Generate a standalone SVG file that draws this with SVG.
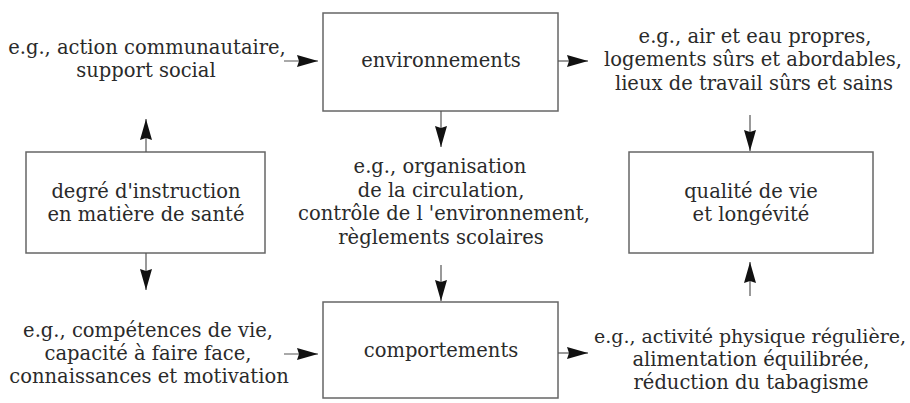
<svg xmlns="http://www.w3.org/2000/svg" width="910" height="403" viewBox="0 0 910 403">
<defs>
<style>
text{font-family:"DejaVu Serif","Liberation Serif",serif;font-size:19.5px;fill:#2a2a2a;text-anchor:middle}
.box{fill:#fff;stroke:#666;stroke-width:1.5}
.c{stroke:#555;stroke-width:1.2;fill:none;marker-end:url(#ah)}
</style>
<marker id="ah" markerUnits="userSpaceOnUse" markerWidth="21" markerHeight="13" refX="21" refY="6.5" orient="auto">
<path d="M0,0.5 L21,6.5 L0,12.5 L2,6.5 Z" fill="#111"/>
</marker>
</defs>
<rect width="910" height="403" fill="#fff"/>
<g id="env">
<rect class="box" x="323" y="13" width="235" height="98"/>
<text x="441" y="67">environnements</text>
</g>
<g id="degre">
<rect class="box" x="26" y="152" width="239" height="101"/>
<text x="146" y="198">degré d'instruction</text>
<text x="146" y="221">en matière de santé</text>
</g>
<g id="qualite">
<rect class="box" x="629" y="152" width="244" height="101"/>
<text x="751" y="198">qualité de vie</text>
<text x="751" y="221">et longévité</text>
</g>
<g id="comp">
<rect class="box" x="323" y="302" width="235" height="96"/>
<text x="441" y="357">comportements</text>
</g>
<g id="lbl-tl">
<text x="147" y="54">e.g., action communautaire,</text>
<text x="146" y="77">support social</text>
</g>
<g id="lbl-tr">
<text x="755" y="43">e.g., air et eau propres,</text>
<text x="753" y="66">logements sûrs et abordables,</text>
<text x="754" y="90">lieux de travail sûrs et sains</text>
</g>
<g id="lbl-mid">
<text x="440" y="173">e.g., organisation</text>
<text x="441" y="197">de la circulation,</text>
<text x="444" y="220">contrôle de l 'environnement,</text>
<text x="441" y="244">règlements scolaires</text>
</g>
<g id="lbl-bl">
<text x="148" y="337">e.g., compétences de vie,</text>
<text x="148" y="360">capacité à faire face,</text>
<text x="149" y="383">connaissances et motivation</text>
</g>
<g id="lbl-br">
<text x="750" y="343" style="font-size:19px">e.g., activité physique régulière,</text>
<text x="751" y="366">alimentation équilibrée,</text>
<text x="751" y="389">réduction du tabagisme</text>
</g>
<g id="connectors">
<line class="c" x1="284" y1="61" x2="318" y2="61"/>
<line class="c" x1="558" y1="61" x2="588" y2="61"/>
<line class="c" x1="441" y1="111" x2="441" y2="147"/>
<line class="c" x1="441" y1="265" x2="441" y2="301"/>
<line class="c" x1="146" y1="152" x2="146" y2="119"/>
<line class="c" x1="146" y1="253" x2="146" y2="290"/>
<line class="c" x1="284" y1="354" x2="318" y2="354"/>
<line class="c" x1="558" y1="353" x2="588" y2="353"/>
<line class="c" x1="750" y1="115" x2="750" y2="151"/>
<line class="c" x1="750" y1="296" x2="750" y2="262"/>
</g>
</svg>
